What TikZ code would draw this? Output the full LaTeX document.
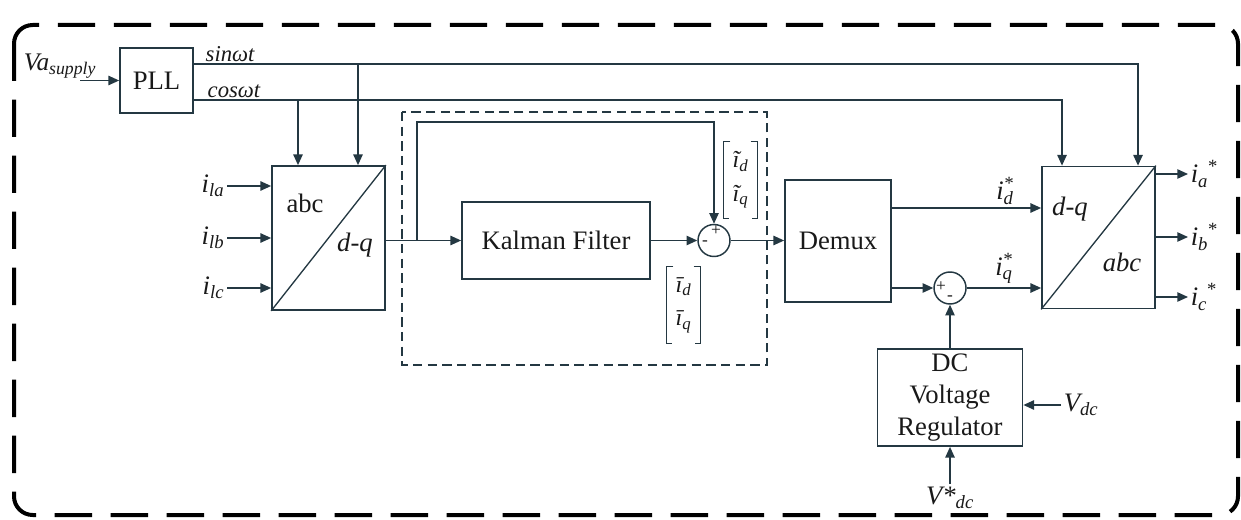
\documentclass[tikz,border=0pt]{standalone}
\usepackage{fontspec}
\setmainfont{Liberation Serif}
\usetikzlibrary{arrows.meta,calc}
\definecolor{ln}{RGB}{36,56,66}
\definecolor{tx}{RGB}{25,25,25}
\begin{document}
\begin{tikzpicture}[x=0.75pt,y=-0.75pt,
  color=ln,
  line width=1.1pt,
  >={Triangle[length=8pt,width=7pt]},
  every node/.style={text=tx},
  blk/.style={draw=ln,line width=1.3pt,inner sep=0pt,align=center,
    font=\fontsize{20}{24}\selectfont},
  sumc/.style={draw=ln,circle,line width=1.1pt,minimum size=24pt,inner sep=0pt},
  wlbl/.style={inner sep=1.5pt,font=\fontsize{17}{20}\selectfont\itshape},
  ilbl/.style={inner sep=1.5pt,font=\fontsize{20}{24}\selectfont\itshape},
  sgn/.style={inner sep=0pt,font=\fontsize{13}{13}\selectfont},
  brk/.style={inner sep=0pt,align=center,font=\fontsize{18}{25}\selectfont\itshape},
]
\useasboundingbox (0,0) rectangle (1241,520);

% outer frame
\draw[black,line width=3pt,dash pattern=on 28pt off 14pt,rounded corners=14pt]
  (14,25) rectangle (1238,515);
% inner dashed group
\draw[line width=1.1pt,dash pattern=on 7pt off 4pt] (402,112) rectangle (767,365);

% blocks
\node[blk,minimum width=54.75pt,minimum height=48.75pt] (pll) at (156.5,80.5) {PLL};
\node[blk,minimum width=84.75pt,minimum height=108pt] (abc) at (328.5,238) {};
\draw[line width=1pt] (abc.south west) -- (abc.north east);
\node[inner sep=0pt,font=\fontsize{20}{24}\selectfont] (abct) at (305,203) {abc};
\node[inner sep=0pt,font=\fontsize{20}{24}\selectfont\itshape] (abcdq) at (355,245) {d-q};

\node[blk,minimum width=141pt,minimum height=57.75pt] (kf) at (556,240.5) {Kalman Filter};
\node[sumc] (s1) at (714,240.5) {};
\node[sgn] (s1p) at (716,231) {+};
\node[sgn] (s1m) at (705,243) {-};

\node[blk,minimum width=79.5pt,minimum height=91.5pt] (demux) at (838,241) {Demux};
\node[sumc] (s2) at (950,288) {};
\node[sgn] (s2p) at (941,287) {+};
\node[sgn] (s2m) at (950,298) {-};

\node[blk,minimum width=84.75pt,minimum height=106.5pt] (dqabc) at (1098.5,237.5) {};
\draw[line width=1pt] (dqabc.south west) -- (dqabc.north east);
\node[inner sep=0pt,font=\fontsize{20}{24}\selectfont\itshape] (dqt) at (1070,209) {d-q};
\node[inner sep=0pt,font=\fontsize{20}{24}\selectfont\itshape] (abct2) at (1122,262) {abc};

\node[blk,minimum width=108.75pt,minimum height=72.75pt] (dc) at (950,397.5)
  {DC\\Voltage\\Regulator};

% Va supply
\node[inner sep=0pt,font=\fontsize{19}{22}\selectfont\itshape] (va) at (60,66)
  {Va\textsubscript{supply}};
\coordinate (vain) at (80,80.5);
\draw[->] (vain) -- (pll.west);

% sin / cos lines
\coordinate (sinend) at (1138,64);
\coordinate (sinb) at (358,64);
\coordinate (cosend) at (1062,100);
\coordinate (cosb) at (298,100);
\draw[->] (pll.east |- sinend) -- (sinend) -- (sinend |- dqabc.north);
\draw[->] (sinb) -- (sinb |- abc.north);
\draw[->] (pll.east |- cosend) -- (cosend) -- (cosend |- dqabc.north);
\draw[->] (cosb) -- (cosb |- abc.north);
\node[wlbl,anchor=south west] (sinl) at (203,64) {sinωt};
\node[wlbl,anchor=south west] (cosl) at (205,100) {cosωt};

% load current inputs
\node[ilbl,anchor=east] (ila) at (227,186) {i\textsubscript{la}};
\node[ilbl,anchor=east] (ilb) at (227,238) {i\textsubscript{lb}};
\node[ilbl,anchor=east] (ilc) at (227,288) {i\textsubscript{lc}};
\draw[->] (ila.east) -- (ila.east -| abc.west);
\draw[->] (ilb.east) -- (ilb.east -| abc.west);
\draw[->] (ilc.east) -- (ilc.east -| abc.west);

% main path
\coordinate (fb) at (417,122);
\draw[->] (abc.east |- kf.west) -- (kf.west);
\draw[->] (fb |- kf.west) -- (fb) -| (s1.north);
\draw[->] (kf.east) -- (s1.west);
\draw[->] (s1.east) -- (demux.west |- s1.east);

% bracket labels
\node[brk,minimum width=24pt,minimum height=57pt] (bt) at (740.5,180) {ĩ\textsubscript{d}\\ĩ\textsubscript{q}};
\draw[line width=1pt] ([xshift=5pt]bt.north west) -- (bt.north west) -- (bt.south west) -- ++(5,0);
\draw[line width=1pt] ([xshift=-5pt]bt.north east) -- (bt.north east) -- (bt.south east) -- ++(-5,0);
\node[brk,minimum width=24pt,minimum height=57pt] (bb) at (683.5,305) {ī\textsubscript{d}\\ī\textsubscript{q}};
\draw[line width=1pt] ([xshift=5pt]bb.north west) -- (bb.north west) -- (bb.south west) -- ++(5,0);
\draw[line width=1pt] ([xshift=-5pt]bb.north east) -- (bb.north east) -- (bb.south east) -- ++(-5,0);

% demux outputs
\coordinate (idy) at (0,208);
\draw[->] (demux.east |- idy) -- (dqabc.west |- idy);
\draw[->] (demux.east |- s2.west) -- (s2.west);
\draw[->] (s2.east) -- (dqabc.west |- s2.east);
\node[ilbl] (idl) at (1005,191) {i\rlap{\textsuperscript{*}}\textsubscript{d}};
\node[ilbl] (iql) at (1004,268) {i\rlap{\textsuperscript{*}}\textsubscript{q}};

% outputs
\node[ilbl,anchor=west] (oa) at (1188,174) {i\textsubscript{a}\textsuperscript{\upshape *}};
\node[ilbl,anchor=west] (ob) at (1188,237) {i\textsubscript{b}\textsuperscript{\upshape *}};
\node[ilbl,anchor=west] (oc) at (1188,297) {i\textsubscript{c}\textsuperscript{\upshape *}};
\draw[->] (dqabc.east |- oa.west) -- (oa.west);
\draw[->] (dqabc.east |- ob.west) -- (ob.west);
\draw[->] (dqabc.east |- oc.west) -- (oc.west);

% DC regulator
\draw[->] (dc.north) -- (s2.south);
\node[ilbl,anchor=west] (vdc) at (1061,405) {V\textsubscript{dc}};
\draw[->] (vdc.west) -- (vdc.west -| dc.east);
\node[ilbl,anchor=north] (vsdc) at (950,484) {V*\textsubscript{dc}};
\draw[->] (vsdc.north) -- (dc.south);
\end{tikzpicture}
\end{document}
